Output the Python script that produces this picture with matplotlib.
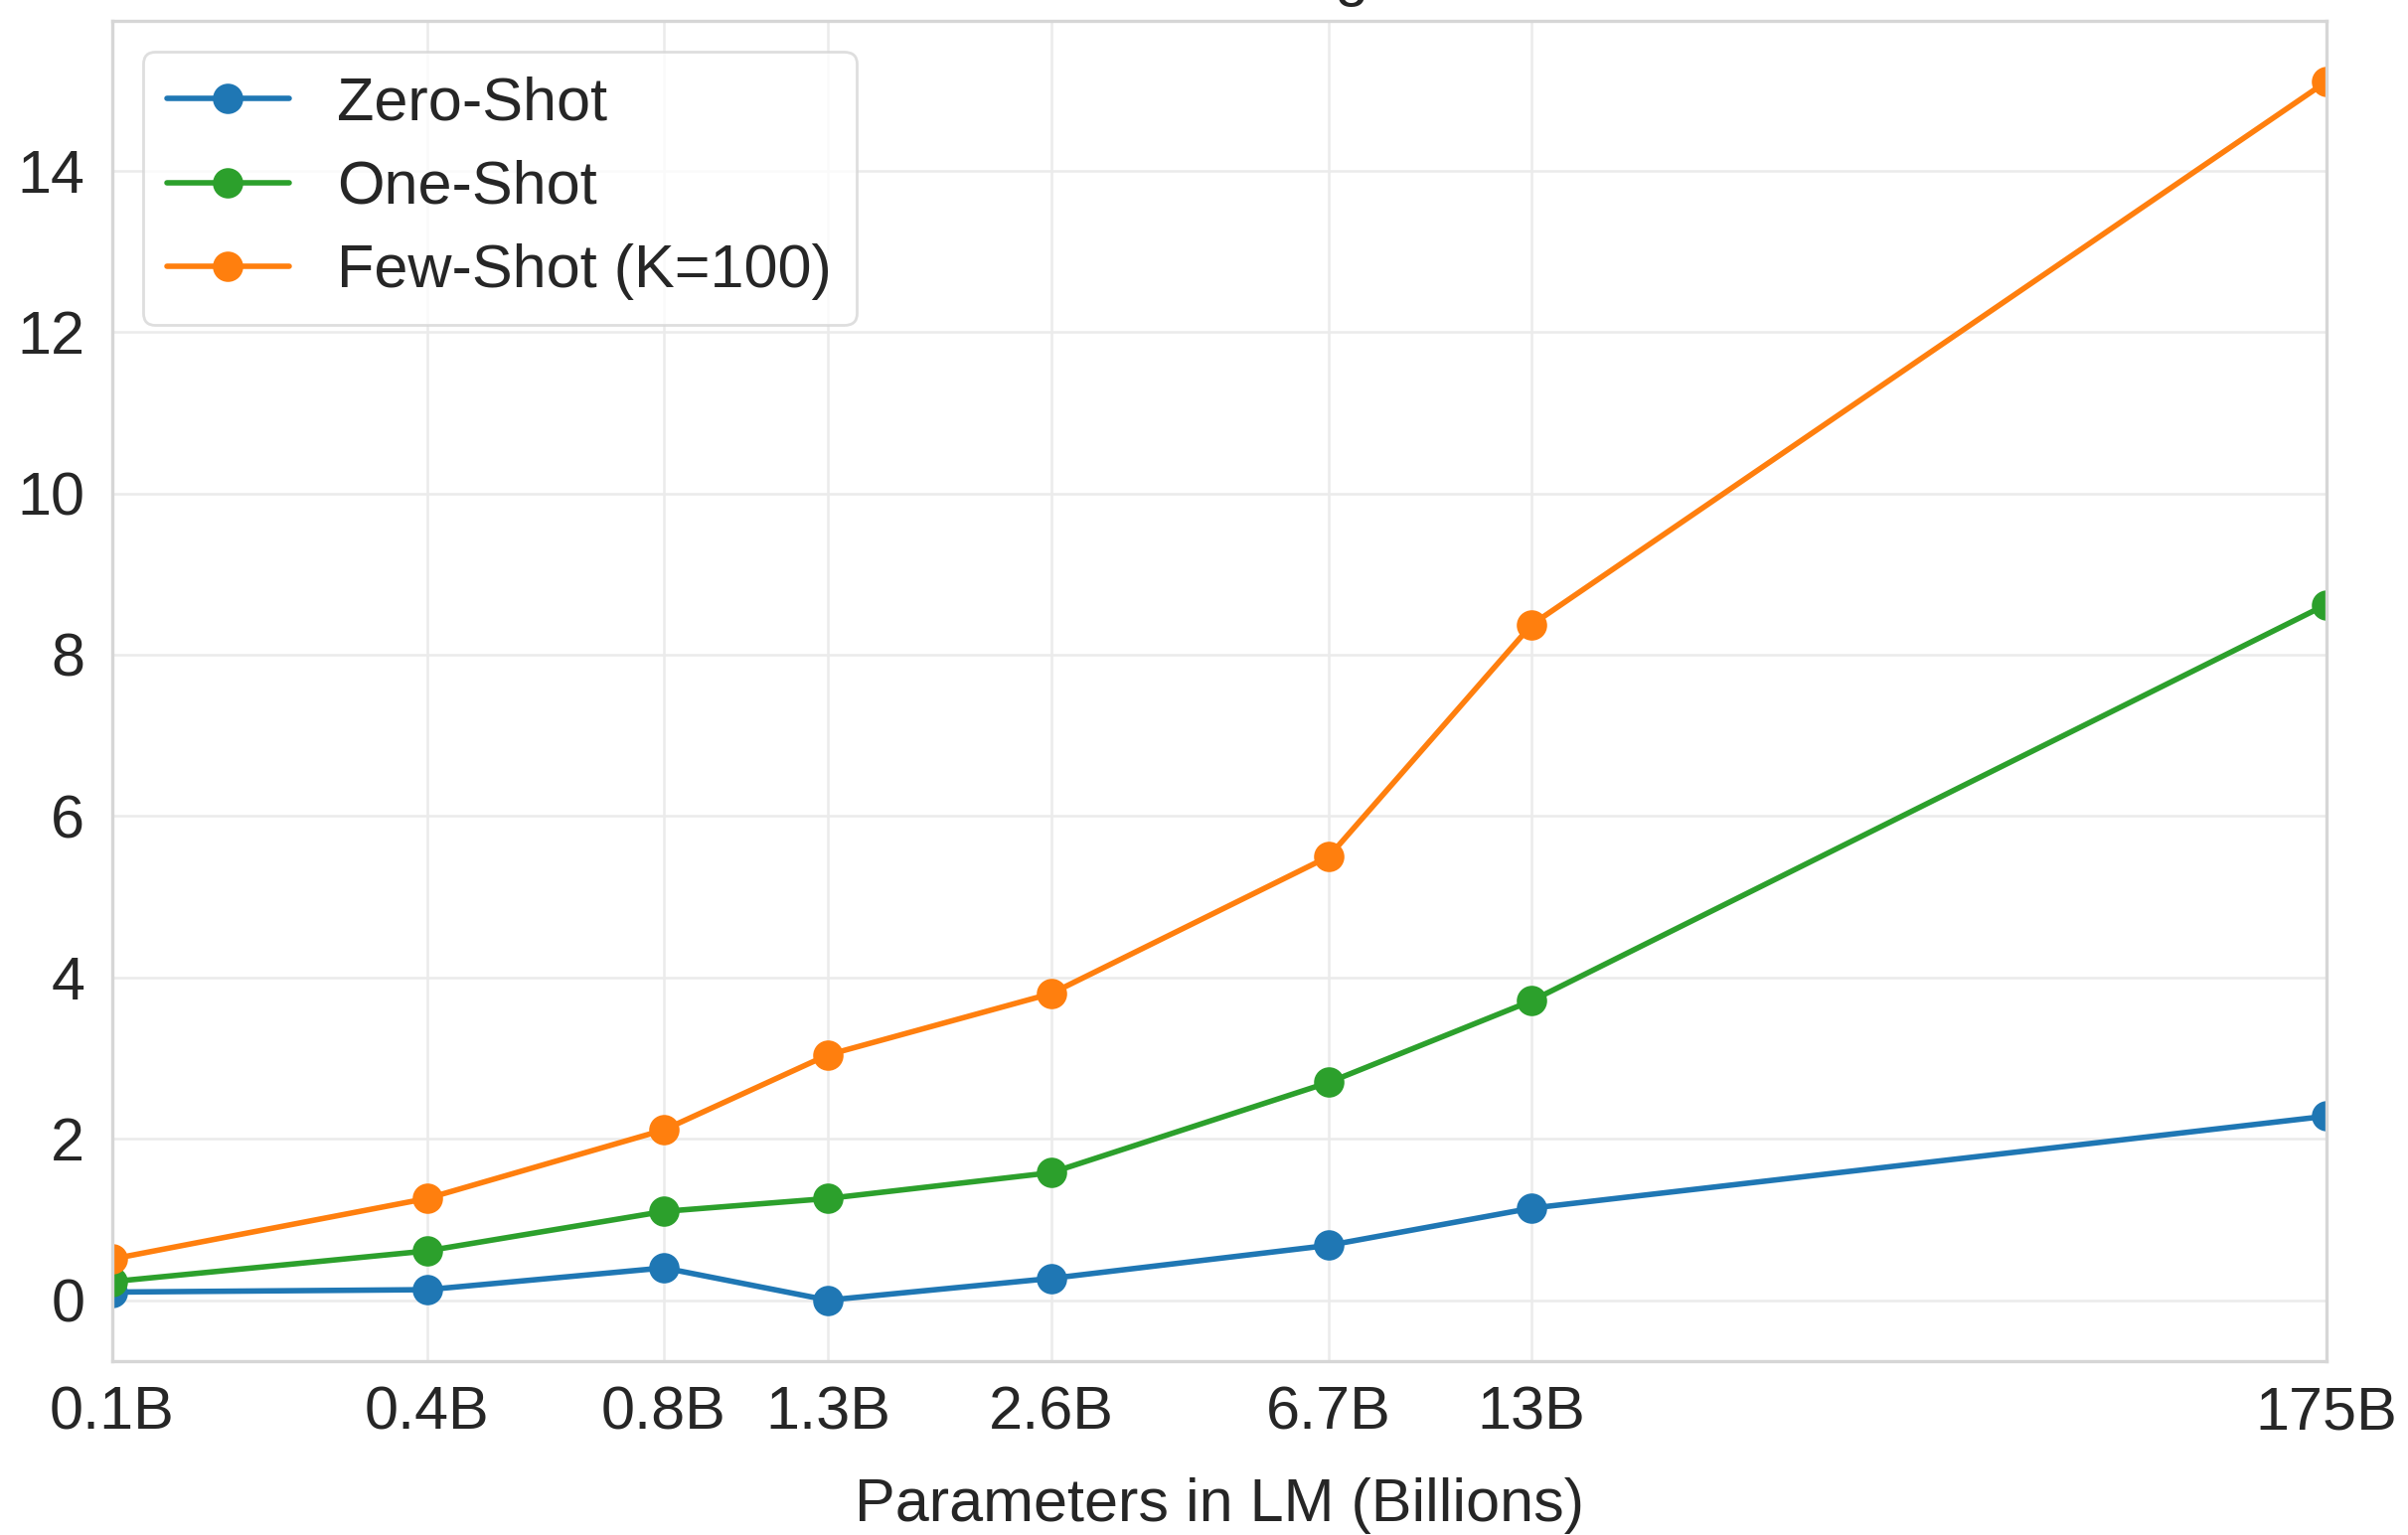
import matplotlib
matplotlib.use('Agg')
import matplotlib.pyplot as plt
import seaborn as sns

# model sizes (billions) and tick labels
params = [0.125, 0.35, 0.76, 1.3, 2.7, 6.7, 13, 175]
tick_labels = ['0.1B', '0.4B', '0.8B', '1.3B', '2.6B', '6.7B', '13B', '175B']

zero_shot = [0.10, 0.13, 0.40, 0.00, 0.27, 0.68, 1.14, 2.28]
one_shot = [0.23, 0.61, 1.10, 1.26, 1.58, 2.70, 3.71, 8.62]
few_shot = [0.51, 1.26, 2.11, 3.04, 3.80, 5.50, 8.37, 15.1]

sns.set_style('whitegrid')
plt.rcParams['font.family'] = ['Liberation Sans', 'DejaVu Sans']
plt.rcParams['text.color'] = '#262626'
plt.rcParams['axes.labelcolor'] = '#262626'
plt.rcParams['xtick.color'] = '#262626'
plt.rcParams['ytick.color'] = '#262626'

fig, ax = plt.subplots(figsize=(12.115, 7.725), dpi=200)
fig.subplots_adjust(left=0.0466, right=0.966, top=0.9864, bottom=0.1133)

ax.plot(params, zero_shot, color='#1f77b4', marker='o', markersize=10, lw=2.0, label='Zero-Shot')
ax.plot(params, one_shot, color='#2ca02c', marker='o', markersize=10, lw=2.0, label='One-Shot')
ax.plot(params, few_shot, color='#ff7f0e', marker='o', markersize=10, lw=2.0, label='Few-Shot (K=100)')

ax.set_xscale('log')
ax.set_xlim(params[0], params[-1])
ax.set_xticks(params)
ax.set_xticklabels(tick_labels)
ax.xaxis.set_minor_locator(matplotlib.ticker.NullLocator())
ax.set_ylim(-0.755, 15.855)
ax.set_yticks([0, 2, 4, 6, 8, 10, 12, 14])
ax.tick_params(axis='both', labelsize=22, length=0)
ax.tick_params(axis='x', pad=9)
ax.tick_params(axis='y', pad=10)
ax.grid(True, color='#ebebeb', lw=0.9)
for s in ax.spines.values():
    s.set_color('#d6d6d6')
    s.set_linewidth(1.2)

ax.set_xlabel('Parameters in LM (Billions)', fontsize=22, labelpad=12.5)

leg = ax.legend(loc='upper left', fontsize=22, frameon=True, handlelength=2.0,
                labelspacing=0.45, borderaxespad=0, bbox_to_anchor=(0.0139, 0.977))
leg.get_frame().set_edgecolor('#d6d6d6')
leg.get_frame().set_linewidth(1.0)

# title is cut off at the top of the source image, only a sliver shows
fig.text(0.5, 1.004, 'Mid Word 1 Anagrams', fontsize=22, ha='center', va='baseline')

fig.savefig('out.png', dpi=200)
